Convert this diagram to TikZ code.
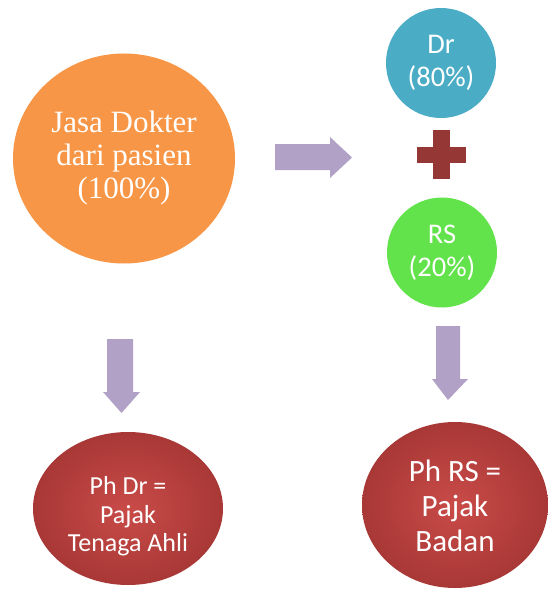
\documentclass[tikz,border=0pt]{standalone}
\usepackage{fontspec}
\setmainfont{Liberation Serif}
\newfontfamily\calfont{Carlito}
\usetikzlibrary{shapes.geometric}
\definecolor{orng}{HTML}{F79646}
\definecolor{blu}{HTML}{4BACC6}
\definecolor{grn}{HTML}{62E24B}
\definecolor{purp}{HTML}{B2A1C7}
\definecolor{plusred}{HTML}{953735}
\definecolor{redin}{HTML}{C94B48}
\definecolor{redout}{HTML}{A83836}
\tikzset{
  blob/.style={ellipse, inner sep=0pt, text=white, align=center},
  redblob/.style={blob, shading=radial, inner color=redin, outer color=redout},
  blobtext/.style={text=white, align=center, inner sep=0pt},
  blockarrow/.style={fill=purp, draw=none},
}
\begin{document}
\begin{tikzpicture}[x=1pt,y=-1pt]
\useasboundingbox[fill=white] (0,0) rectangle (547,599);
% main circles
\node[blob, fill=orng, minimum width=222, minimum height=210,
      font=\fontsize{31}{33}\selectfont] (jasa) at (124,158.5)
      {Jasa Dokter\\dari pasien\\(100\%)};
\node[blob, fill=blu, minimum width=110, minimum height=110,
      font=\calfont\fontsize{28.5}{33}\selectfont] (dr) at (441,63)
      {Dr\\(80\%)};
\node[blob, fill=grn, minimum width=110, minimum height=110,
      font=\calfont\fontsize{28.5}{33}\selectfont] (rs) at (442,252.5)
      {RS\\(20\%)};
% red ellipses
\node[redblob, minimum width=190, minimum height=153] (phdr) at (128,508.5) {};
\node[blobtext, font=\calfont\fontsize{26}{28.5}\selectfont] (phdrtext)
      at ([yshift=-8pt]phdr.center) {Ph Dr =\\Pajak\\Tenaga Ahli};
\node[redblob, minimum width=186, minimum height=166] (phrs) at (455,505) {};
\node[blobtext, font=\calfont\fontsize{31}{35}\selectfont] (phrstext)
      at ([yshift=-1pt]phrs.center) {Ph RS =\\Pajak\\Badan};
% plus sign
\fill[plusred] (417,147) rectangle (466,163);
\fill[plusred] (433,130) rectangle (450,179);
% block arrows
\fill[blockarrow] (275,144) -- (330,144) -- (330,137) -- (352,157.5)
  -- (330,178) -- (330,170) -- (275,170) -- cycle;
\fill[blockarrow] (107,339) -- (133,339) -- (133,392) -- (140,392)
  -- (121.5,413) -- (103,392) -- (107,392) -- cycle;
\fill[blockarrow] (436,326) -- (460,326) -- (460,379) -- (468,379)
  -- (448,400) -- (432,379) -- (436,379) -- cycle;
\end{tikzpicture}
\end{document}
